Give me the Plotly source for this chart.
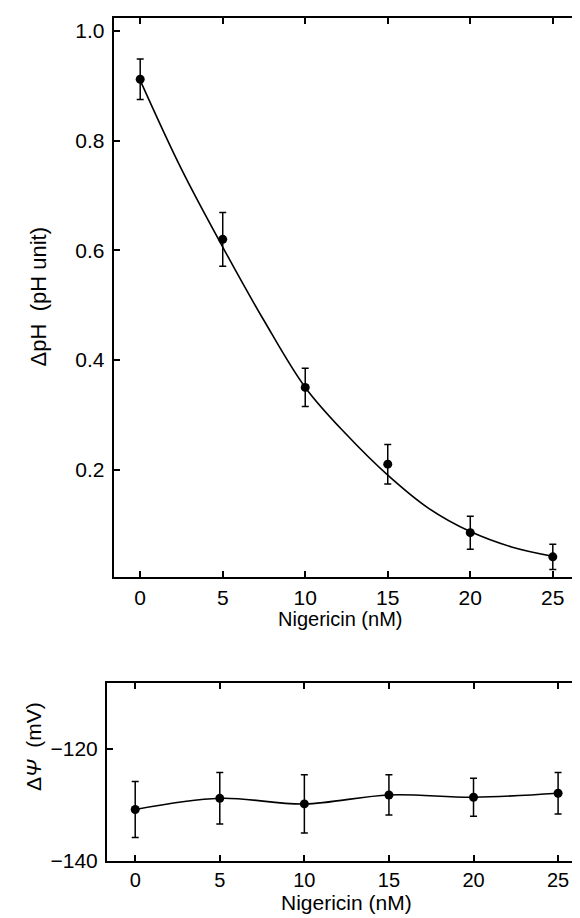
import plotly.graph_objects as go

# ---- data ----
nigericin = [0, 5, 10, 15, 20, 25]
dph = [0.912, 0.620, 0.350, 0.210, 0.085, 0.041]
dph_err = [0.037, 0.049, 0.035, 0.036, 0.030, 0.023]

# fitted curve
fit_x = [0, 2.5, 5, 7.5, 10, 12.5, 15, 17.5, 20, 22.5, 25]
dph_fit = [0.910, 0.748, 0.606, 0.472, 0.350, 0.264, 0.190, 0.129, 0.087, 0.059, 0.042]

dpsi = [-130.8, -128.8, -129.8, -128.2, -128.6, -127.9]
dpsi_err = [5.0, 4.6, 5.2, 3.6, 3.4, 3.7]

dph_ticks = [0.2, 0.4, 0.6, 0.8, 1.0]
dpsi_ticks = [-140, -120]
x_ticks = [0, 5, 10, 15, 20, 25]

W, H = 580, 918
FONT = "Liberation Sans, Arial, Helvetica, sans-serif"


def px_x(p):
    return p / W


def px_y(p):
    return 1 - p / H


fig = go.Figure()

# top panel
fig.add_trace(go.Scatter(x=fit_x, y=dph_fit, mode="lines",
                         line=dict(color="black", width=1.6, shape="spline", smoothing=1.0),
                         xaxis="x", yaxis="y", hoverinfo="skip", showlegend=False))
fig.add_trace(go.Scatter(x=nigericin, y=dph, mode="markers",
                         marker=dict(color="black", size=9),
                         error_y=dict(type="data", array=dph_err, color="black", thickness=1.5, width=3.5),
                         xaxis="x", yaxis="y", showlegend=False))

# bottom panel
fig.add_trace(go.Scatter(x=nigericin, y=dpsi, mode="lines",
                         line=dict(color="black", width=1.6, shape="spline", smoothing=1.0),
                         xaxis="x2", yaxis="y2", hoverinfo="skip", showlegend=False))
fig.add_trace(go.Scatter(x=nigericin, y=dpsi, mode="markers",
                         marker=dict(color="black", size=9),
                         error_y=dict(type="data", array=dpsi_err, color="black", thickness=1.5, width=3.5),
                         xaxis="x2", yaxis="y2", showlegend=False))

axis_common = dict(showline=True, linecolor="black", linewidth=2, mirror="ticks",
                   ticks="inside", ticklen=6, tickwidth=1.5, tickcolor="black",
                   showgrid=False, zeroline=False)

tick21 = dict(family=FONT, size=21, color="black")
tick20 = dict(family=FONT, size=20, color="black")

fig.update_layout(
    width=W, height=H,
    margin=dict(l=0, r=0, t=0, b=0),
    paper_bgcolor="white", plot_bgcolor="white",
    font=dict(family=FONT, color="black"),
    xaxis=dict(domain=[px_x(106), px_x(574)], range=[-1.61, 26.65], tickvals=x_ticks,
               anchor="y", ticklabelstandoff=1, tickfont=tick21, **axis_common),
    yaxis=dict(domain=[px_y(576), px_y(10)], range=[0.004, 1.024], tickvals=dph_ticks,
               tickformat=".1f", anchor="x", ticklabelstandoff=3, tickfont=tick21, **axis_common),
    xaxis2=dict(domain=[px_x(99.3), 1.0], range=[-1.67, 26.65], tickvals=x_ticks,
                anchor="y2", ticklabelstandoff=0, tickfont=tick20, **axis_common),
    yaxis2=dict(domain=[px_y(863.3), px_y(683.3)], range=[-140, -108.2], tickvals=dpsi_ticks,
                anchor="x2", ticklabelstandoff=3, tickfont=tick21, **axis_common),
    annotations=[
        dict(text="ΔpH  (pH unit)", x=px_x(31), y=px_y(292), xref="paper", yref="paper",
             textangle=-90, showarrow=False, xanchor="center", yanchor="middle",
             font=dict(family=FONT, size=22, color="black")),
        dict(text="Nigericin (nM)", x=px_x(333), y=px_y(618), xref="paper", yref="paper",
             showarrow=False, xanchor="center", yanchor="middle",
             font=dict(family=FONT, size=20, color="black")),
        dict(text="Δ<i>Ψ</i>  (mV)", x=px_x(25), y=px_y(747), xref="paper", yref="paper",
             textangle=-90, showarrow=False, xanchor="center", yanchor="middle",
             font=dict(family=FONT, size=21, color="black")),
        dict(text="Nigericin (nM)", x=px_x(340), y=px_y(905), xref="paper", yref="paper",
             showarrow=False, xanchor="center", yanchor="middle",
             font=dict(family=FONT, size=21, color="black")),
    ],
)

fig.write_html("out.html")
